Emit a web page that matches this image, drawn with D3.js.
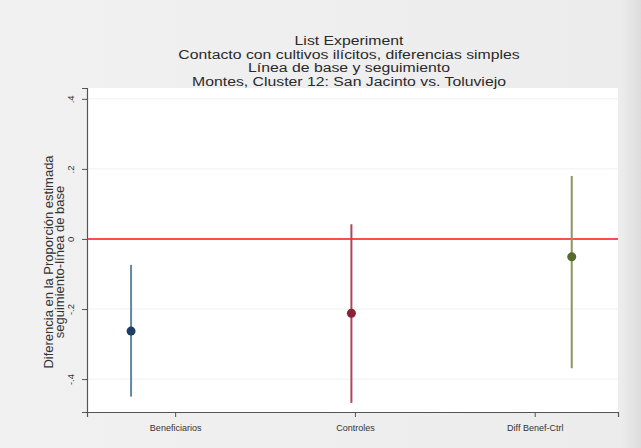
<!DOCTYPE html>
<html><head><meta charset="utf-8">
<script src="https://cdn.jsdelivr.net/npm/d3@7"></script>
<style>body{margin:0;background:#ededed;}svg{display:block;}</style>
</head><body>
<script>
const categories = ["Beneficiarios", "Controles", "Diff Benef-Ctrl"];
const positions = [1, 2, 3];
const estimates = [-0.263, -0.212, -0.051];
const ciLow = [-0.450, -0.468, -0.369];
const ciHigh = [-0.074, 0.042, 0.180];
const xTickValues = [1.2, 2.016, 2.832];
const yTicks = [-0.4, -0.2, 0, 0.2, 0.4];
const yTickLabels = ["-.4", "-.2", "0", ".2", ".4"];
const titleLines = ["List Experiment", "Contacto con cultivos ilícitos, diferencias simples", "Línea de base y seguimiento", "Montes, Cluster 12: San Jacinto vs. Toluviejo"];
const yTitleLines = ["Diferencia en la Proporción estimada", "seguimiento-línea de base"];
const pointColors = ["#1b3f63", "#8a2236", "#566b2c"];
const lineColors = ["#5f87a8", "#a9485e", "#8b9462"];

const W = 641, H = 448;
const FONT = "Liberation Sans, Arial, sans-serif";
const svg = d3.select("body").append("svg").attr("width", W).attr("height", H);
const defs = svg.append("defs");
const grad = defs.append("linearGradient").attr("id","bg").attr("x1","0").attr("x2","1");
grad.append("stop").attr("offset","0").attr("stop-color","#f1f1f1");
grad.append("stop").attr("offset","0.97").attr("stop-color","#ececec");
grad.append("stop").attr("offset","1").attr("stop-color","#dcdcdc");
svg.append("rect").attr("width", W).attr("height", H).attr("fill", "url(#bg)");

const x = d3.scaleLinear().domain([0.8, 3.21]).range([87, 618]);
const y = d3.scaleLinear().domain([-0.494, 0.431]).range([412, 88]);

svg.append("rect").attr("x", 87).attr("y", 88).attr("width", 531).attr("height", 324).attr("fill", "#ffffff");

// gridlines
svg.append("g").selectAll("line").data(yTicks.filter(d => d !== 0)).join("line")
  .attr("x1", 87).attr("x2", 618).attr("y1", d => y(d)).attr("y2", d => y(d))
  .attr("stroke", "#eef0f0").attr("stroke-width", 1);

// y axis
const yAxis = d3.axisLeft(y).tickValues(yTicks).tickSize(5).tickFormat((d, i) => yTickLabels[i]);
const ga = svg.append("g").attr("transform", "translate(87,0)").call(yAxis);
ga.select(".domain").attr("stroke", "#555").attr("stroke-width", 1.2);
ga.selectAll(".tick line").attr("stroke", "#555");
ga.selectAll(".tick text").attr("transform", "translate(-13,0) rotate(-90)").attr("x", 0).attr("y", 0)
  .attr("dy", "0").style("text-anchor", "middle").attr("font-family", FONT)
  .attr("font-size", 9.5).attr("fill", "#333");

// x axis
const xAxis = d3.axisBottom(x).tickValues(xTickValues).tickSize(5).tickFormat((d, i) => categories[i]);
const gx = svg.append("g").attr("transform", "translate(0,412)").call(xAxis);
gx.select(".domain").attr("stroke", "#555").attr("stroke-width", 1.2);
gx.selectAll(".tick line").attr("stroke", "#555");
gx.selectAll(".tick text").attr("y", 13).attr("font-family", FONT)
  .attr("font-size", 9).attr("fill", "#333");

// zero line
svg.append("line").attr("x1", x(0.8)).attr("x2", x(3.21)).attr("y1", y(0)).attr("y2", y(0))
  .attr("stroke", "#ff1010").attr("stroke-width", 1.5);

// CI spikes
svg.append("g").selectAll("line").data(positions).join("line")
  .attr("x1", d => x(d)).attr("x2", d => x(d))
  .attr("y1", (d, i) => y(ciLow[i])).attr("y2", (d, i) => y(ciHigh[i]))
  .attr("stroke", (d, i) => lineColors[i]).attr("stroke-width", 2);

// points
svg.append("g").selectAll("circle").data(positions).join("circle")
  .attr("cx", d => x(d)).attr("cy", (d, i) => y(estimates[i])).attr("r", 4.5)
  .attr("fill", (d, i) => pointColors[i]);

// title
svg.append("g").selectAll("text").data(titleLines).join("text")
  .attr("transform", (d, i) => `translate(349,${45 + i * 13.5}) scale(1.17,1)`).attr("text-anchor", "middle")
  .attr("font-family", FONT).attr("font-size", 13.5).attr("fill", "#2a2a2a")
  .text(d => d);

// y title
svg.append("g").selectAll("text").data(yTitleLines).join("text")
  .attr("transform", (d, i) => `translate(${53 + i * 11},262) rotate(-90)`).attr("text-anchor", "middle")
  .attr("font-family", FONT).attr("font-size", 13).attr("fill", "#333")
  .text(d => d);
</script>
</body></html>
